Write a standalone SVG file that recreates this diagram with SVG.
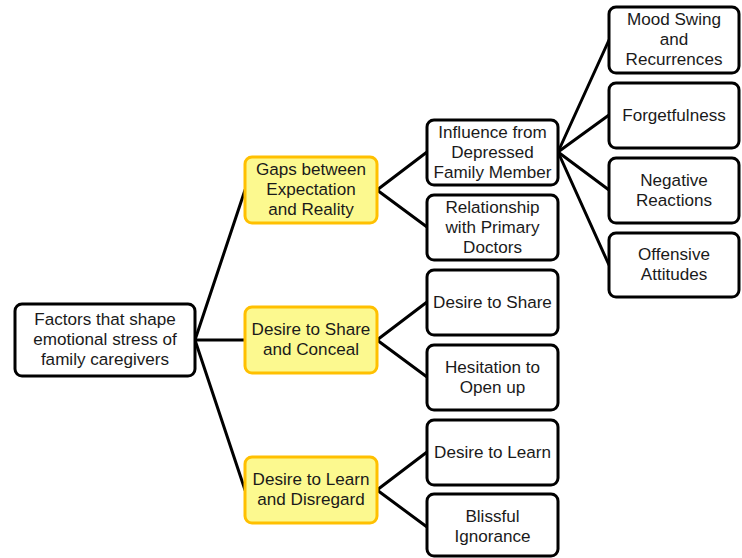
<svg xmlns="http://www.w3.org/2000/svg" width="742" height="558" viewBox="0 0 742 558">
<style>
.b{fill:#fff;stroke:#000;stroke-width:3}
.y{fill:#fcf98f;stroke:#ffc000;stroke-width:3}
text{font-family:"Liberation Sans",Arial,sans-serif;font-size:17.1px;fill:#1a1a1a;text-anchor:middle}
.c line{stroke:#000;stroke-width:3;stroke-linecap:round}
</style>
<rect width="742" height="558" fill="#fff"/>
<g class="c" id="connectors">
<line x1="195" y1="340" x2="245" y2="190"/>
<line x1="195" y1="340" x2="245" y2="340"/>
<line x1="195" y1="340" x2="245" y2="490"/>
<line x1="377" y1="190" x2="427" y2="152"/>
<line x1="377" y1="190" x2="427" y2="227"/>
<line x1="377" y1="340" x2="427" y2="302"/>
<line x1="377" y1="340" x2="427" y2="377"/>
<line x1="377" y1="490" x2="427" y2="452"/>
<line x1="377" y1="490" x2="427" y2="527"/>
<line x1="558" y1="152" x2="609" y2="40"/>
<line x1="558" y1="152" x2="609" y2="115"/>
<line x1="558" y1="152" x2="609" y2="190"/>
<line x1="558" y1="152" x2="609" y2="265"/>
</g>
<g id="root"><rect class="b" x="15" y="304" width="180" height="72" rx="7"/>
<text x="105" y="325">Factors that shape</text><text x="105" y="345">emotional stress of</text><text x="105" y="365">family caregivers</text></g>
<g id="gaps"><rect class="y" x="245" y="157" width="132" height="66" rx="7"/>
<text x="311" y="175">Gaps between</text><text x="311" y="195">Expectation</text><text x="311" y="215">and Reality</text></g>
<g id="share"><rect class="y" x="245" y="307" width="132" height="66" rx="7"/>
<text x="311" y="335">Desire to Share</text><text x="311" y="355">and Conceal</text></g>
<g id="learn"><rect class="y" x="245" y="457" width="132" height="66" rx="7"/>
<text x="311" y="485">Desire to Learn</text><text x="311" y="505">and Disregard</text></g>
<g id="influence"><rect class="b" x="427" y="120" width="131" height="65" rx="7"/>
<text x="492.500" y="138">Influence from</text><text x="492.500" y="158">Depressed</text><text x="492.500" y="178">Family Member</text></g>
<g id="relationship"><rect class="b" x="427" y="195" width="131" height="65" rx="7"/>
<text x="492.500" y="213">Relationship</text><text x="492.500" y="233">with Primary</text><text x="492.500" y="253">Doctors</text></g>
<g id="dshare"><rect class="b" x="427" y="270" width="131" height="65" rx="7"/>
<text x="492.500" y="308">Desire to Share</text></g>
<g id="hesitation"><rect class="b" x="427" y="345" width="131" height="65" rx="7"/>
<text x="492.500" y="373">Hesitation to</text><text x="492.500" y="393">Open up</text></g>
<g id="dlearn"><rect class="b" x="427" y="420" width="131" height="65" rx="7"/>
<text x="492.500" y="458">Desire to Learn</text></g>
<g id="blissful"><rect class="b" x="427" y="494" width="131" height="62" rx="7"/>
<text x="492.500" y="522">Blissful</text><text x="492.500" y="542">Ignorance</text></g>
<g id="mood"><rect class="b" x="609" y="7" width="130" height="66" rx="7"/>
<text x="674" y="25">Mood Swing</text><text x="674" y="45">and</text><text x="674" y="65">Recurrences</text></g>
<g id="forget"><rect class="b" x="609" y="83" width="130" height="65" rx="7"/>
<text x="674" y="121">Forgetfulness</text></g>
<g id="negative"><rect class="b" x="609" y="158" width="130" height="65" rx="7"/>
<text x="674" y="186">Negative</text><text x="674" y="206">Reactions</text></g>
<g id="offensive"><rect class="b" x="609" y="233" width="130" height="64" rx="7"/>
<text x="674" y="260">Offensive</text><text x="674" y="280">Attitudes</text></g>
</svg>
